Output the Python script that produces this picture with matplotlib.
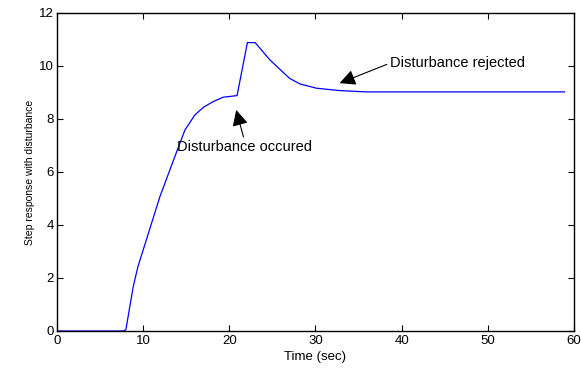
import matplotlib
matplotlib.use("Agg")
import matplotlib.pyplot as plt

t = [0, 7.7, 8.0, 8.85, 9.4, 11.95, 13.9, 14.85, 16.0, 17.0, 18.1, 19.3, 20.9,
     22.1, 23.0, 24.7, 27.0, 28.2, 30.1, 32.8, 35.9, 58.9]
y = [0, 0, 0.05, 1.67, 2.43, 5.07, 6.77, 7.58, 8.15, 8.44, 8.65, 8.82, 8.88,
     10.88, 10.88, 10.23, 9.53, 9.32, 9.16, 9.07, 9.02, 9.02]

xticks = [0, 10, 20, 30, 40, 50, 60]
yticks = [0, 2, 4, 6, 8, 10, 12]

plt.rcParams['font.family'] = ['Liberation Sans', 'DejaVu Sans']
fig = plt.figure(figsize=(5.81, 3.69), dpi=100)
ax = fig.add_axes([0.098, 0.103, 0.89, 0.862])
ax.plot(t, y, color='#0000ff', lw=0.9)
ax.set_xlim(0, 60)
ax.set_ylim(0, 12)
ax.set_xticks(xticks)
ax.set_yticks(yticks)
ax.tick_params(direction='in', top=True, right=True, labelsize=9.5, length=4, width=0.8)
ax.tick_params(axis='x', pad=3)
ax.tick_params(axis='y', pad=2)
for s in ax.spines.values():
    s.set_linewidth(1.0)
ax.set_xlabel('Time (sec)', fontsize=9.5, labelpad=3)
ax.set_ylabel('Step response with disturbance', fontsize=7.5, labelpad=3)

ap = dict(arrowstyle='-|>,head_length=0.6,head_width=0.3', color='black', lw=0.8,
          mutation_scale=16, shrinkA=0, shrinkB=0)
ax.annotate('Disturbance occured', xy=(20.8, 8.34), xytext=(13.9, 6.95),
            fontsize=10.5, ha='left', va='center',
            arrowprops=dict(ap, relpos=(0.5, 1.0)))
ax.annotate('Disturbance rejected', xy=(32.8, 9.35), xytext=(38.6, 10.1),
            fontsize=10.5, ha='left', va='center',
            arrowprops=dict(ap, relpos=(0.0, 0.5)))

fig.savefig('out.png', dpi=100)
